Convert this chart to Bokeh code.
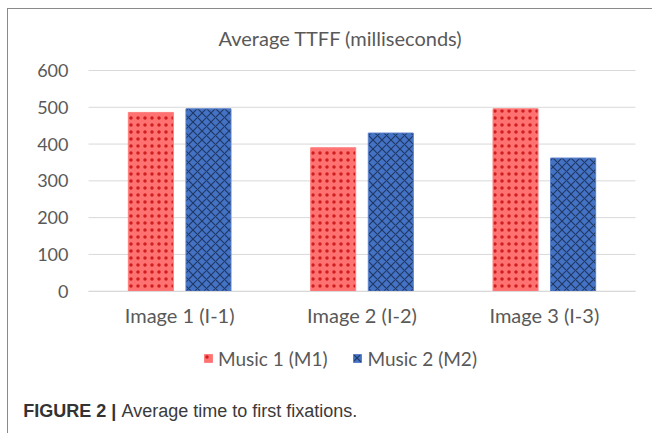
from bokeh.plotting import figure
from bokeh.models import (Legend, LegendItem, FixedTicker, ColumnDataSource,
                          Label, Range1d)
from bokeh.embed import file_html
from bokeh.resources import INLINE

categories = ["Image 1 (I-1)", "Image 2 (I-2)", "Image 3 (I-3)"]
music1 = [486, 390, 496]
music2 = [496, 430, 362]
series_names = ["Music 1 (M1)", "Music 2 (M2)"]
y_ticks = [0, 100, 200, 300, 400, 500, 600]
title_text = "Average TTFF (milliseconds)"
caption_bold = "FIGURE 2 |"
caption_text = "Average time to first fixations."

# ---- layout constants (page pixels) ----
CANVAS_LEFT, CANVAS_TOP, W, H = 8, 10, 644, 424
PLOT_LEFT_PX, PLOT_RIGHT_PX = 88, 635
ZERO_PX, TOP_PX = 291.7, 71.0
ncat = len(categories)
cat_px = (PLOT_RIGHT_PX - PLOT_LEFT_PX) / ncat
unit_px = (ZERO_PX - TOP_PX) / y_ticks[-1]


def xd(px):
    return (px - PLOT_LEFT_PX) / cat_px


def yd(py):
    return (ZERO_PX - py) / unit_px


centers = [i + 0.5 for i in range(ncat)]
off, bw = 0.158, 0.247
source = ColumnDataSource(data=dict(
    x1=[c - off for c in centers], x2=[c + off for c in centers],
    m1=music1, m2=music2))

font = "Lato"
grey = "#595959"
border = "1px solid #8a8a8a"

p = figure(x_range=Range1d(xd(CANVAS_LEFT), xd(CANVAS_LEFT + W)),
           y_range=Range1d(yd(CANVAS_TOP + H), yd(CANVAS_TOP)),
           frame_width=W, frame_height=H, min_border=0,
           output_backend="svg", toolbar_location=None)
p.margin = (8, 0, 0, 7)
p.styles = {"border-left": border, "border-top": border}
p.outline_line_color = None
p.border_fill_color = "white"
p.background_fill_color = "white"

# grid lines restricted to the plot area
p.xgrid.visible = False
p.ygrid.visible = False
p.segment(x0=[0] * len(y_ticks), x1=[ncat] * len(y_ticks), y0=y_ticks,
          y1=y_ticks, line_color="#D9D9D9", line_width=1)

r1 = p.vbar(x="x1", top="m1", width=bw, source=source,
            fill_color="#FF7272", line_color="#FF8080", line_width=1,
            hatch_pattern="dot", hatch_color="#C00000", hatch_alpha=0.75,
            hatch_scale=7, hatch_weight=1.0)
r2 = p.vbar(x="x2", top="m2", width=bw, source=source,
            fill_color="#4472C4", line_color="#5B82CC", line_width=1,
            hatch_pattern="diagonal_cross", hatch_color="#1F3864",
            hatch_scale=9, hatch_weight=1.2)

p.yaxis.fixed_location = 0
p.yaxis.bounds = (0, y_ticks[-1])
p.yaxis.ticker = FixedTicker(ticks=y_ticks)
p.yaxis.axis_line_color = None
p.yaxis.major_tick_line_color = None
p.yaxis.minor_tick_line_color = None
p.yaxis.major_tick_out = 0
p.yaxis.major_tick_in = 0
p.yaxis.major_label_standoff = 20
p.yaxis.major_label_text_font = font
p.yaxis.major_label_text_font_size = "18px"
p.yaxis.major_label_text_color = grey

p.xaxis.fixed_location = 0
p.xaxis.bounds = (0, ncat)
p.xaxis.ticker = FixedTicker(ticks=centers)
p.xaxis.major_label_overrides = {c: n for c, n in zip(centers, categories)}
p.xaxis.axis_line_color = "#D9D9D9"
p.xaxis.major_tick_line_color = None
p.xaxis.minor_tick_line_color = None
p.xaxis.major_tick_out = 0
p.xaxis.major_tick_in = 0
p.xaxis.major_label_standoff = 12
p.xaxis.major_label_text_font = font
p.xaxis.major_label_text_font_size = "20px"
p.xaxis.major_label_text_color = grey

legend_left_px, legend_bottom_px = 203, 370.5
legend = Legend(items=[LegendItem(label=series_names[0], renderers=[r1]),
                       LegendItem(label=series_names[1], renderers=[r2])],
                location=(legend_left_px - CANVAS_LEFT,
                          CANVAS_TOP + H - legend_bottom_px),
                orientation="horizontal",
                glyph_width=10, glyph_height=10, label_standoff=5, spacing=25,
                padding=0, margin=0, border_line_color=None,
                background_fill_alpha=0, label_text_font=font,
                label_text_font_size="19px", label_text_color=grey)
p.add_layout(legend)

p.add_layout(Label(x=xd(218), y=yd(38), text=title_text, text_align="left",
                   text_baseline="middle", text_font=font,
                   text_font_size="20px", text_color=grey))
p.add_layout(Label(x=xd(22.7), y=yd(411), text=caption_bold, text_align="left",
                   text_baseline="middle", text_font="Liberation Sans",
                   text_font_style="bold", text_font_size="18px",
                   text_color="#333333"))
p.add_layout(Label(x=xd(121), y=yd(411), text=caption_text, text_align="left",
                   text_baseline="middle", text_font="Liberation Sans",
                   text_font_size="18px", text_color="#3a3a3a"))

open("out.html", "w").write(file_html(p, INLINE))
